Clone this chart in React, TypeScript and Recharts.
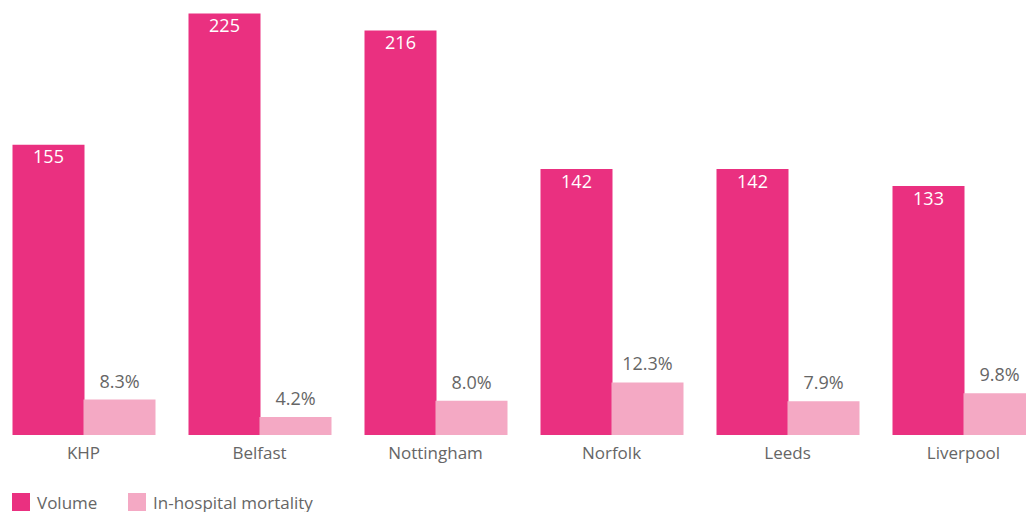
import React from 'react';
import { BarChart, Bar, XAxis, YAxis, LabelList } from 'recharts';

const categories = ['KHP', 'Belfast', 'Nottingham', 'Norfolk', 'Leeds', 'Liverpool'];
const volume = [155, 225, 216, 142, 142, 133];
const mortality = [8.3, 4.2, 8.0, 12.3, 7.9, 9.8];

const data = categories.map((name, i) => ({
  name,
  volume: volume[i],
  mortality: mortality[i],
}));

const VOLUME_COLOR = '#EA3080';
const MORTALITY_COLOR = '#F4A9C4';
const TEXT_COLOR = '#666666';
const FONT = '"Open Sans", sans-serif';

const App = () => {
  return (
    <div style={{ position: 'absolute', left: 0, top: 0, width: 1026, height: 512, overflow: 'hidden', background: '#fff', fontFamily: FONT }}>
      <div style={{ position: 'absolute', left: -5, top: 0 }}>
        <BarChart
          width={1057}
          height={465}
          data={data}
          margin={{ top: 8, right: 0.5, bottom: 0, left: 0.5 }}
          barGap={-1}
          barSize={72}
        >
          <XAxis
            dataKey="name"
            axisLine={false}
            tickLine={false}
            tickSize={0}
            tickMargin={12}
            interval={0}
            tick={{ fill: TEXT_COLOR, fontSize: 17, fontFamily: FONT }}
          />
          <YAxis yAxisId="v" hide domain={[0, 228]} />
          <YAxis yAxisId="m" hide orientation="right" domain={[0, 100]} />
          <Bar yAxisId="v" dataKey="volume" fill={VOLUME_COLOR} isAnimationActive={false}>
            <LabelList
              dataKey="volume"
              position="insideTop"
              offset={6}
              fill="#ffffff"
              style={{ fontSize: 18, fontFamily: FONT }}
            />
          </Bar>
          <Bar yAxisId="m" dataKey="mortality" fill={MORTALITY_COLOR} isAnimationActive={false}>
            <LabelList
              dataKey="mortality"
              position="top"
              offset={12}
              fill={TEXT_COLOR}
              formatter={(v: any) => `${Number(v).toFixed(1)}%`}
              style={{ fontSize: 18, fontFamily: FONT }}
            />
          </Bar>
        </BarChart>
      </div>
      {/* legend */}
      <div style={{ position: 'absolute', left: 12, top: 493, display: 'flex', alignItems: 'center', height: 18, fontSize: 17, color: TEXT_COLOR }}>
        <span style={{ width: 18, height: 18, background: VOLUME_COLOR, display: 'inline-block', marginRight: 7 }} />
        <span style={{ width: 91 }}>Volume</span>
        <span style={{ width: 18, height: 18, background: MORTALITY_COLOR, display: 'inline-block', marginRight: 7 }} />
        <span>In-hospital mortality</span>
      </div>
    </div>
  );
};

export default App;
